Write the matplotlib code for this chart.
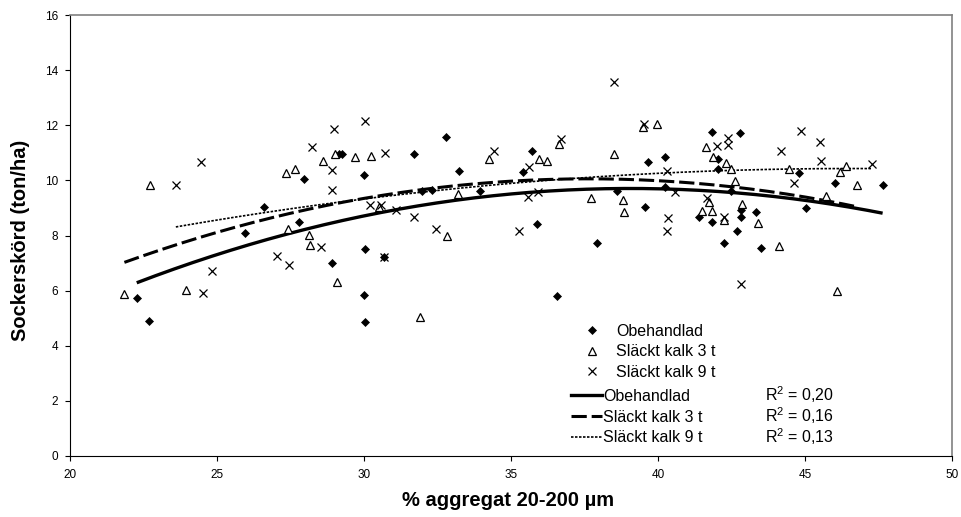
import numpy as np
import matplotlib
matplotlib.use("Agg")
import matplotlib.pyplot as plt
from matplotlib.lines import Line2D

plt.rcParams['font.family'] = ['Liberation Sans', 'DejaVu Sans']

# Obehandlad
x_obeh = [22.27, 22.68, 25.95, 26.60, 27.97, 27.80, 28.91, 29.15, 29.25, 30.00,
          30.02, 29.99, 30.03, 30.68, 31.71, 32.80, 31.96, 32.30, 33.23, 33.95,
          35.70, 35.41, 35.90, 36.57, 37.93, 38.62, 39.56, 39.66, 40.24, 40.24,
          41.84, 42.05, 42.05, 41.40, 41.85, 42.79, 42.47, 42.84, 42.82, 42.70,
          42.24, 43.33, 43.50, 44.78, 45.03, 46.02, 47.64]
y_obeh = [5.74, 4.89, 8.08, 9.02, 10.04, 8.50, 7.01, 10.96, 10.96, 10.20,
          7.51, 5.84, 4.87, 7.23, 10.96, 11.59, 9.60, 9.65, 10.34, 9.63,
          11.08, 10.29, 8.43, 5.82, 7.74, 9.63, 9.05, 10.67, 10.84, 9.77,
          11.76, 10.76, 10.43, 8.67, 8.48, 11.73, 9.63, 8.93, 8.66, 8.17,
          7.72, 8.85, 7.55, 10.28, 8.99, 9.92, 9.83]

# Släckt kalk 3 t
x_k3 = [21.85, 22.73, 23.95, 27.35, 27.40, 27.67, 28.12, 28.16, 28.59, 29.00,
        29.07, 29.70, 30.25, 30.52, 31.92, 32.84, 33.19, 34.25, 35.96, 36.22,
        36.64, 37.71, 38.52, 38.80, 38.84, 39.48, 39.97, 41.63, 41.88, 41.72,
        41.50, 41.84, 42.31, 42.48, 42.63, 42.86, 42.24, 43.40, 44.10, 44.47,
        45.70, 46.19, 46.39, 46.78, 46.10]
y_k3 = [5.88, 9.84, 6.01, 10.28, 8.22, 10.41, 8.03, 7.67, 10.72, 10.96,
        6.31, 10.84, 10.88, 9.05, 5.06, 7.99, 9.49, 10.76, 10.78, 10.71,
        11.32, 9.37, 10.95, 9.29, 8.85, 11.95, 12.05, 11.20, 10.86, 9.23,
        8.88, 8.88, 10.64, 10.41, 9.98, 9.14, 8.55, 8.45, 7.62, 10.41,
        9.45, 10.30, 10.52, 9.82, 5.99]

# Släckt kalk 9 t
x_k9 = [23.60, 24.46, 24.54, 24.83, 27.03, 27.46, 28.23, 28.55, 28.90, 28.90,
        28.99, 30.05, 30.22, 30.58, 30.68, 30.71, 31.10, 31.70, 32.46, 34.42,
        35.27, 35.57, 35.60, 35.92, 36.71, 38.49, 39.52, 40.29, 40.58, 40.34,
        40.31, 41.65, 42.00, 42.39, 42.37, 42.24, 42.81, 44.17, 44.61, 44.85,
        45.51, 45.54, 47.27]
y_k9 = [9.84, 10.67, 5.90, 6.70, 7.26, 6.93, 11.22, 7.58, 10.38, 9.65,
        11.88, 12.16, 9.12, 9.12, 7.23, 11.01, 8.91, 8.68, 8.22, 11.08,
        8.17, 9.41, 10.47, 9.57, 11.49, 13.56, 12.05, 10.34, 9.57, 8.65,
        8.15, 9.35, 11.25, 11.53, 11.28, 8.68, 6.24, 11.08, 9.92, 11.78,
        11.40, 10.69, 10.58]

labels = ["Obehandlad", "Släckt kalk 3 t", "Släckt kalk 9 t"]
r2_text = ["R$^2$ = 0,20", "R$^2$ = 0,16", "R$^2$ = 0,13"]

plt.rcParams['mathtext.fontset'] = 'custom'
plt.rcParams['mathtext.rm'] = 'Liberation Sans'
plt.rcParams['mathtext.default'] = 'regular'

series = [(x_obeh, y_obeh), (x_k3, y_k3), (x_k9, y_k9)]
marker_kw = [dict(marker='D', ms=4.3, mfc='black', mec='black', mew=0.5),
             dict(marker='^', ms=5.5, mfc='white', mec='black', mew=0.9),
             dict(marker='x', ms=5.8, mec='black', mew=0.9)]
line_kw = [dict(lw=2.4, ls='-'),
           dict(lw=2.2, ls=(0, (5, 1.6))),
           dict(lw=1.2, ls=(0, (1.5, 0.9)))]

fig = plt.figure(figsize=(9.62, 5.17), dpi=100)
ax = fig.add_axes([70 / 962, 61 / 517, 882 / 962, 441 / 517])

for (x, y), mk in zip(series, marker_kw):
    ax.plot(x, y, ls='none', **mk, zorder=3)

# andragradspolynom, ritad över varje series x-intervall
for (x, y), lk in zip(series, line_kw):
    c = np.polyfit(x, y, 2)
    xs = np.linspace(min(x), max(x), 200)
    ax.plot(xs, np.polyval(c, xs), color='black', solid_capstyle='butt', **lk, zorder=2)

ax.set_xlim(20, 50)
ax.set_ylim(0, 16)
ax.set_xticks(range(20, 51, 5))
ax.set_yticks(range(0, 17, 2))
ax.tick_params(direction='out', length=3.6, width=0.8, labelsize=8.5, colors='black')
ax.tick_params(axis='x', pad=5.5)
ax.tick_params(axis='y', pad=5)

for s in ['left', 'bottom']:
    ax.spines[s].set_color('black')
    ax.spines[s].set_linewidth(0.8)
for s in ['top', 'right']:
    ax.spines[s].set_color('#808080')
    ax.spines[s].set_linewidth(1.2)

ax.set_xlabel("% aggregat 20-200 µm", fontsize=14.5, fontweight='bold')
ax.set_ylabel("Sockerskörd (ton/ha)", fontsize=14.5, fontweight='bold')
ax.xaxis.set_label_coords(0.4966, -0.0998)
ax.xaxis.label.set_va('center')
ax.yaxis.set_label_coords(-0.0556, 0.49)
ax.yaxis.label.set_va('center')

# två legender: markörer och trendlinjer
h_mk = [Line2D([], [], ls='none', **mk) for mk in marker_kw]
h_ln = [Line2D([], [], color='black', **lk) for lk in line_kw]
leg_opts = dict(frameon=False, fontsize=11.5, borderpad=0, borderaxespad=0,
                labelspacing=0.35, loc='upper left', bbox_transform=fig.transFigure)
leg1 = ax.legend(h_mk, labels, handlelength=1.0, handletextpad=1.0,
                 bbox_to_anchor=(584 / 962, 1 - 323.5 / 517), **leg_opts)
ax.add_artist(leg1)
ax.legend(h_ln, labels, handlelength=1.94, handletextpad=0.06,
          bbox_to_anchor=(571 / 962, 1 - 389 / 517), **leg_opts)

for i, t in enumerate(r2_text):
    fig.text(765 / 962, 1 - (395 + 20.8 * i) / 517, t, fontsize=11.5,
             ha='left', va='center')

fig.savefig("out.png", dpi=100)
